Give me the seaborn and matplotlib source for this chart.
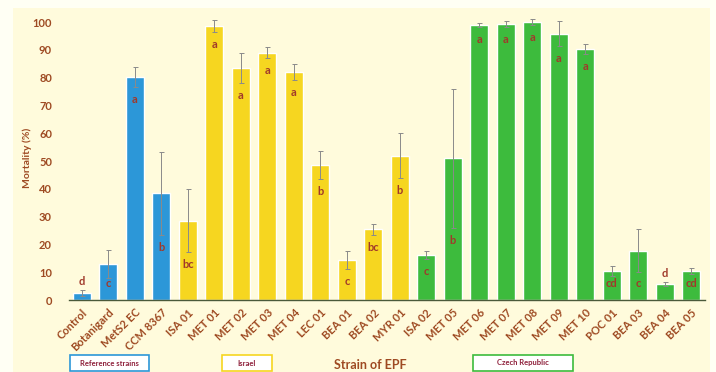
import matplotlib
matplotlib.use("Agg")
import matplotlib.pyplot as plt
from matplotlib.patches import Rectangle
import seaborn as sns
import pandas as pd

# Mortality of insects treated with entomopathogenic fungi (EPF) strains
strains = ["Control", "Botanigard", "MetS2 EC", "CCM 8367", "ISA 01", "MET 01",
           "MET 02", "MET 03", "MET 04", "LEC 01", "BEA 01", "BEA 02", "MYR 01",
           "ISA 02", "MET 05", "MET 06", "MET 07", "MET 08", "MET 09", "MET 10",
           "POC 01", "BEA 03", "BEA 04", "BEA 05"]
groups = (["Reference strains"] * 4 + ["Israel"] * 9 + ["Czech Republic"] * 11)
mortality = [2.5, 13.0, 80.3, 38.4, 28.5, 98.6, 83.6, 89.0, 82.1, 48.6, 14.4, 25.5,
             52.0, 16.1, 51.0, 98.9, 99.3, 100.0, 95.9, 90.3, 10.5, 17.7, 5.8, 10.4]
sd = [1.0, 5.0, 3.7, 15.0, 11.3, 2.0, 5.4, 2.0, 3.0, 5.0, 3.4, 2.0,
      8.0, 1.5, 25.0, 0.8, 1.2, 1.0, 4.6, 1.8, 1.8, 7.7, 0.8, 1.0]
letters = ["d", "c", "a", "b", "bc", "a", "a", "a", "a", "b", "c", "bc",
           "b", "c", "b", "a", "a", "a", "a", "a", "cd", "c", "d", "cd"]
yticks = [0, 10, 20, 30, 40, 50, 60, 70, 80, 90, 100]

palette = {"Reference strains": "#2C97D8", "Israel": "#F6D620", "Czech Republic": "#3DBB3D"}
brown = "#9E4A22"
letter_col = "#A0392A"

df = pd.DataFrame({"strain": strains, "group": groups, "mortality": mortality, "sd": sd})

sns.set_style("white")
plt.rcParams["font.family"] = ["Lato", "DejaVu Sans"]

fig = plt.figure(figsize=(7.16, 3.72), dpi=100, facecolor="#FFFFF4")
# cream page panel behind the chart
fig.patches.append(Rectangle((13 / 716, 0), 697 / 716, 1 - 8 / 372,
                             transform=fig.transFigure, facecolor="#FFFBDC",
                             edgecolor="none", zorder=-5))

ax = fig.add_axes([0.096, 0.1935, 0.888, 0.762])
ax.set_zorder(2)
ax.set_facecolor("none")

sns.barplot(data=df, x="strain", y="mortality", hue="group", palette=palette,
            dodge=False, width=0.68, legend=False, ax=ax, saturation=1, errorbar=None)

xs = range(len(strains))
ax.errorbar(xs, mortality, yerr=sd, fmt="none", ecolor="#8a8a8a",
            elinewidth=0.7, capsize=1.8, capthick=0.7, zorder=3)

for i, (m, s, lab) in enumerate(zip(mortality, sd, letters)):
    if m > 8:
        y = max(m - s - 4.5, 6)
    else:
        y = m + s + 3
    ax.text(i, y, lab, ha="center", va="center", fontsize=8,
            fontweight="bold", color=letter_col, zorder=4)

ax.set_xlim(-0.5, len(strains) - 0.5)
ax.set_ylim(0, 102)
ax.set_yticks(yticks)
ax.set_yticklabels([str(t) for t in yticks], fontsize=8, fontweight="bold", color=brown)
ax.set_xticks(list(xs))
ax.set_xticklabels(strains, rotation=45, ha="right", rotation_mode="anchor",
                   fontsize=8, fontweight="bold", color=brown)
ax.tick_params(axis="both", length=0, pad=5)
ax.tick_params(axis="y", pad=12)

for side in ["top", "right", "left"]:
    ax.spines[side].set_visible(False)
ax.spines["bottom"].set_color("#4a5a3a")
ax.spines["bottom"].set_linewidth(1.0)

ax.set_xlabel("")
ax.set_ylabel("Mortality (%)", fontsize=7.5, fontweight="bold", color=brown, labelpad=0)
ax.yaxis.set_label_coords(-0.058, 0.5)

fig.text(370 / 716, 1 - 365 / 372, "Strain of EPF", ha="center", va="center",
         fontsize=9, fontweight="bold", color=brown)

# group key boxes along the bottom
boxes = [("Reference strains", 70, 149, "#2C97D8"),
         ("Israel", 222, 272, "#F6D620"),
         ("Czech Republic", 473, 573, "#3DBB3D")]
for label, x0, x1, col in boxes:
    y0, y1 = 355, 371
    fig.patches.append(Rectangle((x0 / 716, 1 - y1 / 372), (x1 - x0) / 716, (y1 - y0) / 372,
                                 transform=fig.transFigure, facecolor="white",
                                 edgecolor=col, linewidth=1.2, zorder=2))
    fig.text((x0 + x1) / 2 / 716, 1 - (y0 + y1) / 2 / 372, label, ha="center", va="center",
             fontsize=5.5, fontweight="bold", color="#8E1F3A", zorder=3)

fig.savefig("out.png", dpi=100, facecolor=fig.get_facecolor())
